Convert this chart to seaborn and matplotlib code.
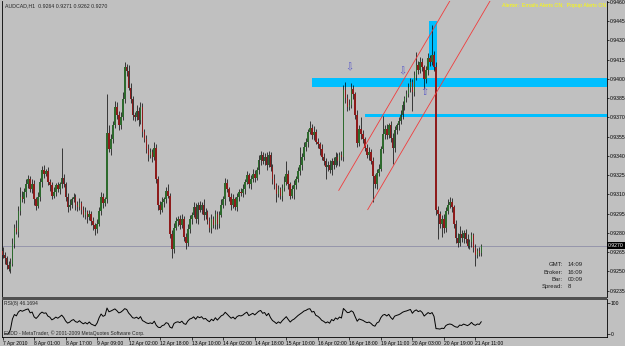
import numpy as np
import pandas as pd
import matplotlib
matplotlib.use("Agg")
import matplotlib.pyplot as plt
import matplotlib.transforms as mtransforms
from matplotlib.patches import Rectangle
import seaborn as sns

# AUDCAD H1, prices in pips (9270 -> 0.9270), one value per hourly bar
first_open = 9266
closes = [
    9263, 9260, 9255, 9252, 9256, 9271, 9284, 9281, 9297, 9308,
    9306, 9312, 9318, 9322, 9314, 9318, 9306, 9301, 9308, 9320,
    9329, 9326, 9328, 9320, 9317, 9309, 9312, 9317, 9314, 9318,
    9323, 9318, 9308, 9300, 9302, 9306, 9308, 9302, 9300, 9303,
    9298, 9294, 9296, 9292, 9295, 9289, 9286, 9283, 9287, 9297,
    9308, 9303, 9306, 9358, 9345, 9353, 9364, 9378, 9372, 9364,
    9370, 9384, 9409, 9406, 9393, 9384, 9372, 9370, 9375, 9368,
    9378, 9359, 9353, 9345, 9341, 9343, 9339, 9346, 9322, 9302,
    9298, 9304, 9306, 9313, 9309, 9279, 9267, 9284, 9289, 9291,
    9286, 9291, 9277, 9272, 9283, 9291, 9294, 9300, 9291, 9302,
    9298, 9302, 9294, 9296, 9289, 9284, 9291, 9286, 9295, 9287,
    9294, 9302, 9306, 9319, 9314, 9308, 9302, 9306, 9300, 9308,
    9312, 9311, 9314, 9320, 9325, 9318, 9322, 9326, 9323, 9329,
    9337, 9341, 9336, 9339, 9333, 9341, 9331, 9322, 9317, 9310,
    9314, 9309, 9315, 9320, 9326, 9318, 9309, 9314, 9317, 9322,
    9328, 9333, 9339, 9347, 9351, 9359, 9362, 9356, 9359, 9351,
    9349, 9345, 9339, 9336, 9331, 9333, 9329, 9336, 9333, 9339,
    9336, 9341, 9339, 9391, 9385, 9378, 9380, 9392, 9388, 9372,
    9350, 9361, 9357, 9353, 9346, 9341, 9343, 9336, 9324, 9318,
    9327, 9330, 9345, 9357, 9361, 9356, 9364, 9354, 9346, 9360,
    9364, 9367, 9372, 9380, 9385, 9388, 9393, 9398, 9390, 9403,
    9411, 9407, 9413, 9409, 9400, 9407, 9416, 9413, 9419, 9409,
    9298, 9295, 9287, 9291, 9284, 9297, 9302, 9304, 9300, 9287,
    9276, 9272, 9279, 9276, 9280, 9275, 9270, 9273, 9278, 9268,
    9263, 9266, 9264, 9270,
]
# wick length above / below the body, pips
wick_hi = [
    3, 2, 2, 3, 4, 5, 3, 6, 4, 8, 5, 3, 4, 3, 2, 4, 3, 2, 4, 3,
    3, 4, 2, 3, 2, 3, 4, 2, 3, 2, 23, 3, 2, 3, 4, 2, 3, 2, 3, 4,
    2, 3, 4, 2, 3, 2, 3, 2, 4, 3, 4, 3, 2, 30, 6, 4, 3, 5, 4, 3,
    4, 6, 4, 3, 5, 4, 3, 2, 5, 3, 4, 3, 2, 3, 4, 3, 2, 5, 3, 2,
    3, 4, 2, 3, 5, 2, 3, 4, 3, 2, 3, 4, 2, 3, 4, 3, 2, 4, 3, 2,
    3, 2, 4, 3, 2, 3, 4, 2, 3, 2, 3, 4, 3, 4, 3, 2, 3, 4, 2, 3,
    2, 3, 4, 2, 3, 2, 3, 4, 3, 2, 4, 3, 2, 3, 4, 3, 2, 3, 4, 2,
    3, 2, 3, 4, 10, 3, 2, 3, 4, 2, 3, 14, 3, 4, 3, 2, 5, 3, 4, 2,
    3, 2, 4, 3, 2, 3, 4, 2, 3, 4, 3, 2, 3, 4, 7, 3, 4, 5, 3, 2,
    4, 3, 9, 3, 2, 3, 4, 2, 3, 2, 3, 4, 3, 14, 3, 4, 2, 3, 4, 3,
    2, 3, 4, 3, 2, 3, 4, 3, 2, 3, 10, 3, 4, 3, 2, 3, 4, 3, 23, 3,
    4, 3, 2, 3, 4, 3, 4, 4, 3, 2, 3, 4, 6, 3, 2, 3, 4, 2, 3, 2,
    3, 2, 3, 1,
]
wick_lo = [
    3, 4, 3, 2, 3, 2, 3, 2, 4, 3, 2, 3, 4, 3, 2, 3, 4, 3, 2, 3,
    4, 3, 2, 3, 4, 3, 2, 3, 2, 4, 3, 2, 3, 4, 2, 3, 2, 4, 3, 2,
    3, 2, 3, 4, 2, 3, 4, 5, 3, 2, 3, 4, 2, 3, 2, 4, 3, 2, 3, 4,
    3, 2, 3, 4, 2, 3, 4, 3, 2, 5, 3, 4, 2, 3, 5, 3, 4, 2, 3, 4,
    3, 2, 4, 3, 2, 3, 7, 3, 2, 4, 3, 2, 3, 5, 2, 3, 4, 2, 3, 4,
    2, 3, 4, 3, 2, 3, 4, 2, 3, 4, 3, 2, 3, 4, 2, 3, 4, 3, 2, 3,
    3, 2, 3, 4, 2, 3, 4, 2, 3, 2, 3, 4, 2, 3, 4, 2, 3, 4, 3, 6,
    2, 3, 4, 2, 3, 4, 3, 2, 8, 3, 2, 3, 4, 2, 3, 4, 2, 3, 4, 2,
    3, 4, 2, 3, 9, 3, 2, 4, 3, 2, 3, 4, 2, 3, 4, 3, 2, 3, 4, 3,
    3, 2, 4, 3, 2, 3, 4, 2, 20, 3, 4, 3, 2, 3, 4, 3, 2, 3, 12, 3,
    3, 4, 2, 3, 4, 3, 2, 3, 15, 3, 4, 3, 2, 3, 8, 3, 4, 3, 2, 3,
    4, 20, 3, 10, 4, 3, 2, 3, 4, 3, 4, 3, 2, 3, 4, 3, 2, 3, 4, 3,
    9, 3, 2, 2,
]

time_labels = ["7 Apr 2010", "8 Apr 01:00", "8 Apr 17:00", "9 Apr 09:00",
               "12 Apr 02:00", "12 Apr 18:00", "13 Apr 10:00", "14 Apr 02:00",
               "14 Apr 18:00", "15 Apr 10:00", "16 Apr 02:00", "16 Apr 18:00",
               "19 Apr 11:00", "20 Apr 03:00", "20 Apr 19:00", "21 Apr 11:00"]
label_step = 16
price_ticks = [9235, 9250, 9265, 9280, 9295, 9310, 9325, 9340,
               9355, 9370, 9385, 9400, 9415, 9430, 9445, 9460]
bid = 9270

# objects drawn on the chart by the trader
zone_start = [157, 184]
zone_low = [9394, 9370]
zone_high = [9401, 9373]
box_bars = [216.2, 220.3]
box_prices = [9407, 9445]
channel_bar0 = [170.6, 185.3]
channel_price0 = [9313, 9298]
channel_slope = 2.62      # pips per bar
fractal_bars = [176, 203, 214]
fractal_prices = [9409, 9406, 9390]
fractal_marks = ["⇩", "⇩", "⇧"]

info_keys = ["GMT:", "Broker:", "Bar:", "Spread:"]
info_vals = ["14:09", "16:09", "00:09", "8"]

df = pd.DataFrame({"close": closes})
df["bar"] = np.arange(len(df))
df["open"] = [first_open] + closes[:-1]
top = df[["open", "close"]].max(axis=1)
bot = df[["open", "close"]].min(axis=1)
df["high"] = top + np.array(wick_hi)
df["low"] = bot - np.array(wick_lo)

delta = df["close"].diff()
avg_gain = delta.clip(lower=0).ewm(alpha=1 / 8, adjust=False).mean()
avg_loss = (-delta.clip(upper=0)).ewm(alpha=1 / 8, adjust=False).mean()
df["rsi"] = 100 * avg_gain / (avg_gain + avg_loss)

sns.set_style("white")
plt.rcParams["font.family"] = ["Liberation Sans", "DejaVu Sans"]
bg = "#C0C0C0"
W, H = 625, 346

fig = plt.figure(figsize=(6.25, 3.46), dpi=100, facecolor=bg)


def px_axes(x0, y0, x1, y1):
    a = fig.add_axes([x0 / W, 1 - y1 / H, (x1 - x0) / W, (y1 - y0) / H])
    a.set_facecolor(bg)
    return a


ax = px_axes(2, 1, 607, 297)
ax2 = px_axes(2, 299, 607, 337)
xlim = (-0.3, 306.8)

# zones behind the candles
for s, lo, hi in zip(zone_start, zone_low, zone_high):
    ax.add_patch(Rectangle((s, lo), xlim[1] - s, hi - lo, color="#00BFFF", lw=0, zorder=1))
ax.add_patch(Rectangle((box_bars[0], box_prices[0]), box_bars[1] - box_bars[0],
                       box_prices[1] - box_prices[0], color="#00BFFF", lw=0, zorder=1))
ax.axhline(bid, color="#8E8EA8", lw=0.6, zorder=1)

up = df["close"] >= df["open"]
ax.vlines(df["bar"], df["low"], df["high"], color="black", lw=0.5, zorder=2)
ax.bar(df["bar"], (top - bot).clip(lower=0.6), bottom=bot, width=0.8,
       color=np.where(up, "#2D6A2D", "#8E1B1B"), linewidth=0, zorder=3)

for b0, p0 in zip(channel_bar0, channel_price0):
    ax.plot([b0, b0 + 80], [p0, p0 + channel_slope * 80], color="#F03C3C", lw=0.6, zorder=4)

for b, p, m in zip(fractal_bars, fractal_prices, fractal_marks):
    ax.text(b, p, m, color="#5C5CC8", fontsize=7, ha="center", va="center", zorder=5,
            family=["DejaVu Sans"])

ax.set_xlim(*xlim)
ax.set_ylim(9460 - 296 / 1.2867, 9460 + 1 / 1.2867)
ax.set_xticks([])
ax.yaxis.tick_right()
ax.set_yticks(price_ticks)
ax.set_yticklabels([f"{t / 10000:.4f}" for t in price_ticks])
ax.tick_params(axis="y", direction="out", length=1.5, width=0.5, pad=0.8,
               labelsize=3.7, colors="black", right=True)

trans = mtransforms.blended_transform_factory(ax.transAxes, ax.transData)
ax.text(1.002, bid, f"{bid / 10000:.4f}", transform=trans, color="white", fontsize=3.7,
        ha="left", va="center", zorder=6,
        bbox=dict(facecolor="black", edgecolor="none", pad=0.5))

for side in ["top", "bottom"]:
    ax.spines[side].set_visible(False)
for side in ["left", "right"]:
    ax.spines[side].set_color("black")
    ax.spines[side].set_linewidth(0.6)

# RSI panel
sns.lineplot(x=df["bar"], y=df["rsi"], ax=ax2, color="black", lw=0.7)
ax2.set_xlim(*xlim)
ax2.set_ylim(-9.7, 112.9)
ax2.set_xlabel("")
ax2.set_ylabel("")
ax2.yaxis.tick_right()
ax2.set_yticks([0, 100])
ax2.set_yticklabels(["0", "100"])
ax2.set_xticks(np.arange(len(time_labels)) * label_step)
ax2.set_xticklabels(time_labels)
ax2.tick_params(axis="both", direction="out", length=2, width=0.5, pad=0.8,
                labelsize=3.6, colors="black", bottom=True, right=True)
for lab in ax2.get_xticklabels():
    lab.set_horizontalalignment("left")
ax2.spines["top"].set_visible(False)
for side in ["left", "right", "bottom"]:
    ax2.spines[side].set_color("black")
    ax2.spines[side].set_linewidth(0.6)

fig.patches.append(Rectangle((2 / W, 1 - 299.5 / H), 605 / W, 2.5 / H, transform=fig.transFigure,
                             color="#505050", lw=0))

last = df.iloc[-1]
fig.text(5 / W, 1 - 6 / H,
         f"AUDCAD,H1  {last.open / 1e4:.4f} {last.high / 1e4:.4f} {last.low / 1e4:.4f} {last.close / 1e4:.4f}",
         fontsize=3.8, va="center")
fig.text(502 / W, 1 - 6 / H, "Alerter:  Emails Alerts ON;  Popup Alerts ON",
         color="#FFFF00", fontsize=3.8, va="center")
for k, (key, val) in enumerate(zip(info_keys, info_vals)):
    yy = 1 - (265 + 7.3 * k) / H
    fig.text(563 / W, yy, key, fontsize=4.3, ha="right", va="center", color="#202020")
    fig.text(568 / W, yy, val, fontsize=4.3, ha="left", va="center", color="#202020")
fig.text(4 / W, 1 - 304 / H, "RSI(8) 46.1694", fontsize=3.6, va="center")
fig.text(4 / W, 1 - 333 / H, "FXDD - MetaTrader, © 2001-2009 MetaQuotes Software Corp.",
         fontsize=3.6, va="center")

fig.savefig("out.png", dpi=100, facecolor=bg)
